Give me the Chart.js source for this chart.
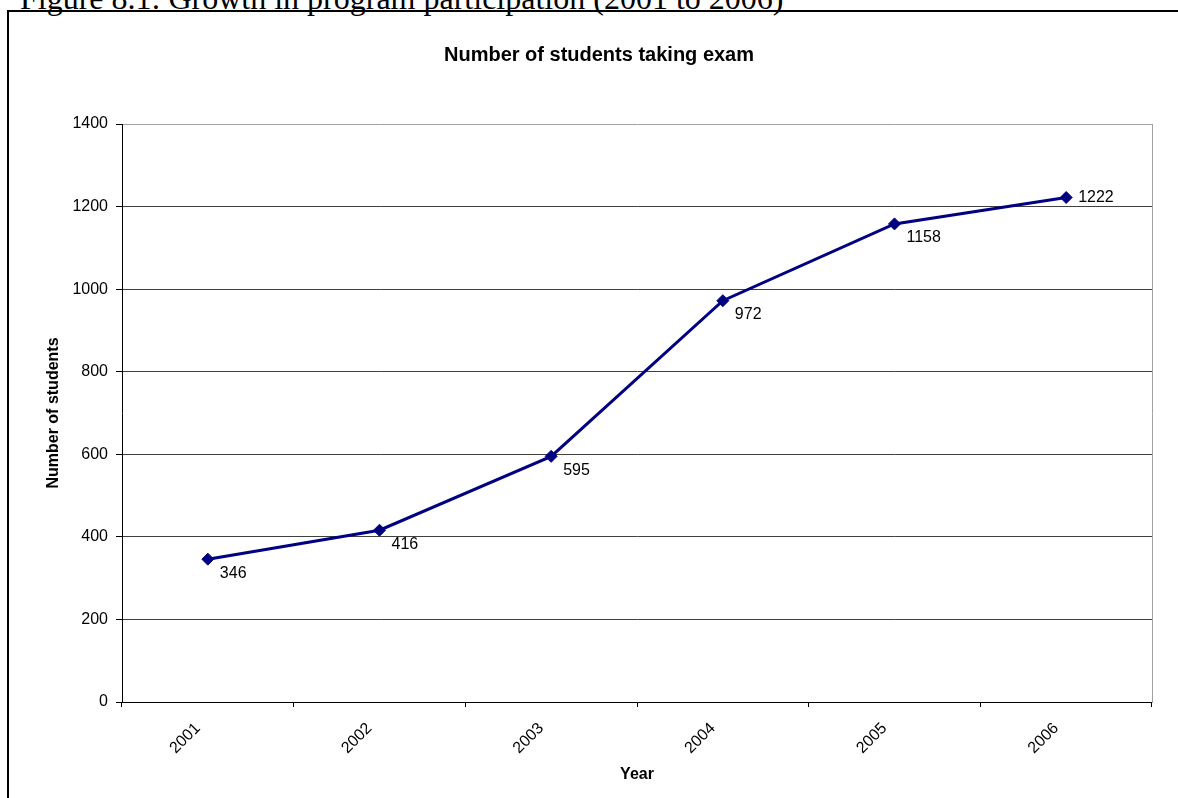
<!DOCTYPE html>
<html>
<head>
<meta charset="utf-8">
<script src="https://cdn.jsdelivr.net/npm/chart.js@4.4.0/dist/chart.umd.min.js"></script>
<style>
  html, body { margin: 0; padding: 0; background: #fff; overflow: hidden; width: 1178px; height: 798px; }
  #caption { position: absolute; left: 20px; top: -18px; font-family: "Liberation Serif", "Times New Roman", serif; font-size: 32px; line-height: 32px; white-space: nowrap; color: #000; }
  #frame { position: absolute; left: 7px; top: 10px; width: 1300px; height: 900px; border: 2px solid #000; }
  #wrap { position: absolute; left: 0; top: 0; width: 1198px; height: 798px; }
</style>
</head>
<body>
<div id="caption">Figure 8.1: Growth in program participation (2001 to 2006)</div>
<div id="frame"></div>
<div id="wrap"><canvas id="chart" width="1198" height="798"></canvas></div>
<script>
// data
const years = ['2001', '2002', '2003', '2004', '2005', '2006'];
const students = [346, 416, 595, 972, 1158, 1222];
const yTicks = [0, 200, 400, 600, 800, 1000, 1200, 1400];

Chart.defaults.font.family = '"Liberation Sans", Arial, sans-serif';
Chart.defaults.color = '#000';

// value labels next to each point (last one sits to the right)
const pointLabels = {
    id: 'pointLabels',
    afterDatasetsDraw(chart) {
        const ctx = chart.ctx;
        const meta = chart.getDatasetMeta(0);
        ctx.save();
        ctx.font = '16px "Liberation Sans", Arial, sans-serif';
        ctx.fillStyle = '#000';
        ctx.textAlign = 'left';
        ctx.textBaseline = 'middle';
        meta.data.forEach((pt, i) => {
            const last = i === meta.data.length - 1;
            ctx.fillText(String(students[i]), pt.x + 12, last ? pt.y : pt.y + 14);
        });
        ctx.restore();
    }
};

const ctx = document.getElementById('chart').getContext('2d');
new Chart(ctx, {
    type: 'line',
    data: {
        labels: years,
        datasets: [{
            data: students,
            borderColor: '#000080',
            backgroundColor: '#000080',
            borderWidth: 3,
            tension: 0,
            pointStyle: 'rectRot',
            pointRadius: 6,
            pointBorderWidth: 1,
            pointBackgroundColor: '#000080',
            pointBorderColor: '#000080'
        }]
    },
    options: {
        responsive: false,
        animation: false,
        devicePixelRatio: 1,
        layout: { padding: 0 },
        plugins: {
            legend: { display: false },
            tooltip: { enabled: false },
            title: {
                display: true,
                text: 'Number of students taking exam',
                color: '#000',
                font: { size: 20, weight: 'bold' },
                padding: { top: 43, bottom: 57 }
            }
        },
        scales: {
            x: {
                offset: true,
                grid: { offset: true, drawOnChartArea: false, tickLength: 5, tickColor: '#000' },
                border: { color: '#000', width: 1 },
                ticks: { minRotation: 45, maxRotation: 45, padding: 12, labelOffset: -10, color: '#000', font: { size: 16 } },
                title: {
                    display: true, text: 'Year', color: '#000',
                    font: { size: 16, weight: 'bold' },
                    padding: { top: 0, bottom: 14 }
                },
                afterFit: (s) => { s.height = 96; }
            },
            y: {
                min: yTicks[0],
                max: yTicks[yTicks.length - 1],
                ticks: {
                    stepSize: yTicks[1] - yTicks[0],
                    padding: 8, color: '#000', font: { size: 16 },
                    callback: (v) => String(v)
                },
                grid: {
                    color: (c) => c.index === yTicks.length - 1 ? '#a0a0a0' : '#404040',
                    tickLength: 6,
                    tickColor: '#000'
                },
                border: { color: '#000', width: 1 },
                title: {
                    display: true, text: 'Number of students', color: '#000',
                    font: { size: 16, weight: 'bold' },
                    padding: { top: 44, bottom: 0 }
                },
                afterFit: (s) => { s.width = 122; }
            },
            yR: {
                position: 'right',
                grid: { display: false },
                ticks: { display: false },
                border: { display: true, color: '#a0a0a0', width: 1 },
                afterFit: (s) => { s.width = 46; }
            }
        }
    },
    plugins: [pointLabels]
});
</script>
</body>
</html>
